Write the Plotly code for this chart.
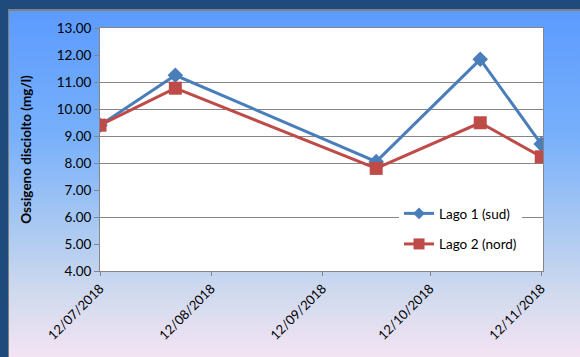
import base64
import plotly.graph_objects as go

# Sampling dates and dissolved-oxygen readings (mg/l)
dates = ["2018-07-12", "2018-08-02", "2018-09-27", "2018-10-26", "2018-11-12"]
lago1_sud = [9.40, 11.25, 8.05, 11.84, 8.70]
lago2_nord = [9.40, 10.77, 7.80, 9.49, 8.23]

series_names = ["Lago 1 (sud)", "Lago 2 (nord)"]
series_colors = ["#4a7ebb", "#be4b48"]
x_ticks = ["2018-07-12", "2018-08-12", "2018-09-12", "2018-10-12", "2018-11-12"]
x_tick_labels = ["12/07/2018", "12/08/2018", "12/09/2018", "12/10/2018", "12/11/2018"]
grid_levels = [6, 8, 9, 10, 11]

W, H = 580, 357
L, R, T, B = 100, 37, 28, 86
pw, ph = W - L - R, H - T - B

FONT = "Lato, 'Liberation Sans', sans-serif"

# Framed background: dark border, grey edge, blue-to-pink gradient panel
svg = f"""<svg xmlns='http://www.w3.org/2000/svg' width='{W}' height='{H}' viewBox='0 0 {W} {H}'>
<defs><linearGradient id='g' x1='0' y1='0' x2='0' y2='1'>
<stop offset='0' stop-color='#5c9bff'/>
<stop offset='0.35' stop-color='#78b0fb'/>
<stop offset='0.6' stop-color='#a8c8f2'/>
<stop offset='0.8' stop-color='#d2daee'/>
<stop offset='1' stop-color='#fae6f5'/>
</linearGradient></defs>
<rect x='0' y='0' width='{W}' height='{H}' fill='#1f4a7c'/>
<rect x='8' y='9' width='{W}' height='{H}' fill='#808080'/>
<rect x='9' y='11' width='{W}' height='{H}' fill='url(#g)'/>
</svg>"""
bg_uri = "data:image/svg+xml;base64," + base64.b64encode(svg.encode()).decode()

fig = go.Figure()
fig.add_trace(go.Scatter(
    x=dates, y=lago1_sud, name=series_names[0], mode="lines+markers",
    line=dict(color=series_colors[0], width=3),
    marker=dict(symbol="diamond", size=12, color=series_colors[0]),
    showlegend=False,
))
fig.add_trace(go.Scatter(
    x=dates, y=lago2_nord, name=series_names[1], mode="lines+markers",
    line=dict(color=series_colors[1], width=3),
    marker=dict(symbol="square", size=13, color=series_colors[1]),
    showlegend=False,
))
# legend entries with the smaller legend-key markers
for i, (sym, sz) in enumerate([("diamond", 9), ("square", 11)]):
    fig.add_trace(go.Scatter(
        x=[None], y=[None], name=series_names[i], mode="lines+markers",
        line=dict(color=series_colors[i], width=3),
        marker=dict(symbol=sym, size=sz, color=series_colors[i]),
        legendgroup=f"g{i}",
    ))
# invisible carrier for the gridline axis
fig.add_trace(go.Scatter(x=[dates[0]], y=[grid_levels[0]], yaxis="y2",
                         mode="markers", marker=dict(opacity=0),
                         showlegend=False, hoverinfo="skip"))

fig.update_layout(
    width=W, height=H,
    margin=dict(l=L, r=R, t=T, b=B),
    paper_bgcolor="#5c9bff",
    plot_bgcolor="rgba(0,0,0,0)",
    font=dict(family=FONT, size=13, color="#000000"),
    images=[dict(source=bg_uri, xref="paper", yref="paper",
                 x=-L / pw, y=1 + T / ph, sizex=W / pw, sizey=H / ph,
                 xanchor="left", yanchor="top", sizing="stretch", layer="below")],
    shapes=[dict(type="rect", xref="paper", yref="paper", x0=0, x1=1, y0=0, y1=1,
                 fillcolor="white", line=dict(width=0), layer="below")],
    xaxis=dict(
        type="date", range=["2018-07-12", "2018-11-12 12:00"],
        tickvals=x_ticks, ticktext=x_tick_labels, tickangle=-45,
        ticks="outside", ticklen=4, tickcolor="#868686",
        showgrid=False, showline=True, linecolor="#868686", linewidth=1,
        mirror=True, zeroline=False, tickfont=dict(size=13),
    ),
    yaxis=dict(
        range=[4, 13], dtick=1, tickformat=".2f",
        ticks="outside", ticklen=5, tickcolor="#868686",
        showgrid=False, showline=True, linecolor="#868686", linewidth=1,
        mirror=True, zeroline=False, tickfont=dict(size=13.5),
        title=dict(text="<b>Ossigeno disciolto (mg/l)</b>", font=dict(size=13.5), standoff=22),
    ),
    yaxis2=dict(
        range=[4, 13], overlaying="y", tickvals=grid_levels, showticklabels=False,
        showgrid=True, gridcolor="#868686", gridwidth=1, zeroline=False,
        showline=False, ticks="",
    ),
    legend=dict(
        x=0.675, y=0.30, xanchor="left", yanchor="top",
        bgcolor="white", borderwidth=0, font=dict(size=13.5),
        traceorder="grouped", tracegroupgap=10,
    ),
    showlegend=True,
)

fig.write_html("out.html")
